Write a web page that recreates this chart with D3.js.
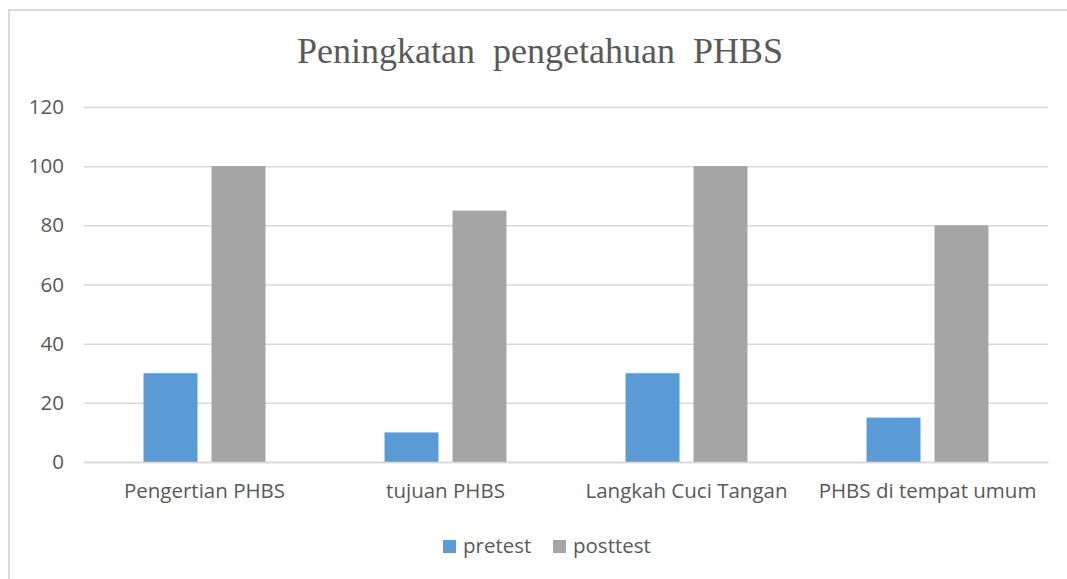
<!DOCTYPE html>
<html>
<head>
<meta charset="utf-8">
<script src="https://cdn.jsdelivr.net/npm/d3@7"></script>
<style>
  body { margin: 0; background: #fff; }
  svg { display: block; }
</style>
</head>
<body>
<figure id="chart" style="margin:0"></figure>
<script>
const categories = ['Pengertian PHBS', 'tujuan PHBS', 'Langkah Cuci Tangan', 'PHBS di tempat umum'];
const seriesNames = ['pretest', 'posttest'];
const pretest = [30, 10, 30, 15];
const posttest = [100, 85, 100, 80];
const yTicks = [0, 20, 40, 60, 80, 100, 120];
const colors = ['#5B9BD5', '#A5A5A5'];

const width = 1067, height = 579;
const plot = { left: 84, right: 1048, top: 107, bottom: 462 };

const svg = d3.select('#chart')
  .append('svg')
  .attr('width', width)
  .attr('height', height);

// outer frame (only top and left edges are inside the picture)
svg.append('path')
  .attr('d', 'M9,579 V10 H1067')
  .attr('fill', 'none')
  .attr('stroke', '#d9d9d9')
  .attr('stroke-width', 2);

// title
svg.append('text')
  .attr('x', 540)
  .attr('y', 63)
  .attr('text-anchor', 'middle')
  .attr('font-family', '"Liberation Serif", "Times New Roman", serif')
  .attr('font-size', 36)
  .attr('fill', '#595959')
  .attr('xml:space', 'preserve')
  .text('Peningkatan  pengetahuan  PHBS');

const y = d3.scaleLinear()
  .domain([0, 120])
  .range([plot.bottom, plot.top]);

const x0 = d3.scaleBand()
  .domain(categories)
  .range([plot.left, plot.right])
  .paddingInner(0.494)
  .paddingOuter(0.247);

const x1 = d3.scaleBand()
  .domain(seriesNames)
  .range([0, x0.bandwidth()])
  .paddingInner(0.206);

// gridlines + y labels
const yAxis = svg.append('g')
  .attr('transform', `translate(${plot.left},0)`)
  .call(d3.axisLeft(y).tickValues(yTicks).tickSize(-(plot.right - plot.left)).tickPadding(20));
yAxis.select('.domain').remove();
yAxis.selectAll('.tick line')
  .attr('stroke', '#d9d9d9')
  .attr('stroke-width', 1.5);
yAxis.selectAll('.tick text')
  .attr('font-family', '"Open Sans", sans-serif')
  .attr('font-size', 20.5)
  .attr('fill', '#595959');

// bars
const rows = categories.map((c, i) => ({ cat: c, values: [pretest[i], posttest[i]] }));
const groups = svg.selectAll('g.group')
  .data(rows)
  .enter()
  .append('g')
  .attr('class', 'group')
  .attr('transform', d => `translate(${x0(d.cat)},0)`);

groups.selectAll('rect')
  .data(d => d.values.map((v, j) => ({ key: seriesNames[j], value: v, j })))
  .enter()
  .append('rect')
  .attr('x', d => x1(d.key))
  .attr('y', d => y(d.value))
  .attr('width', x1.bandwidth())
  .attr('height', d => y(0) - y(d.value))
  .attr('fill', d => colors[d.j]);

// x labels
const xAxis = svg.append('g')
  .attr('transform', `translate(0,${plot.bottom})`)
  .call(d3.axisBottom(x0).tickSize(0).tickPadding(21));
xAxis.select('.domain').attr('stroke', '#d9d9d9').attr('stroke-width', 1.5);
xAxis.selectAll('.tick text')
  .attr('font-family', '"Open Sans", sans-serif')
  .attr('font-size', 20.5)
  .attr('fill', '#595959');

// legend
const legendItems = [
  { name: seriesNames[0], color: colors[0], x: 443 },
  { name: seriesNames[1], color: colors[1], x: 553 }
];
const legend = svg.selectAll('g.legend')
  .data(legendItems)
  .enter()
  .append('g')
  .attr('class', 'legend')
  .attr('transform', d => `translate(${d.x},540)`);
legend.append('rect')
  .attr('width', 13)
  .attr('height', 13)
  .attr('fill', d => d.color);
legend.append('text')
  .attr('x', 20)
  .attr('y', 13)
  .attr('font-family', '"Open Sans", sans-serif')
  .attr('font-size', 20.5)
  .attr('fill', '#595959')
  .text(d => d.name);
</script>
</body>
</html>
